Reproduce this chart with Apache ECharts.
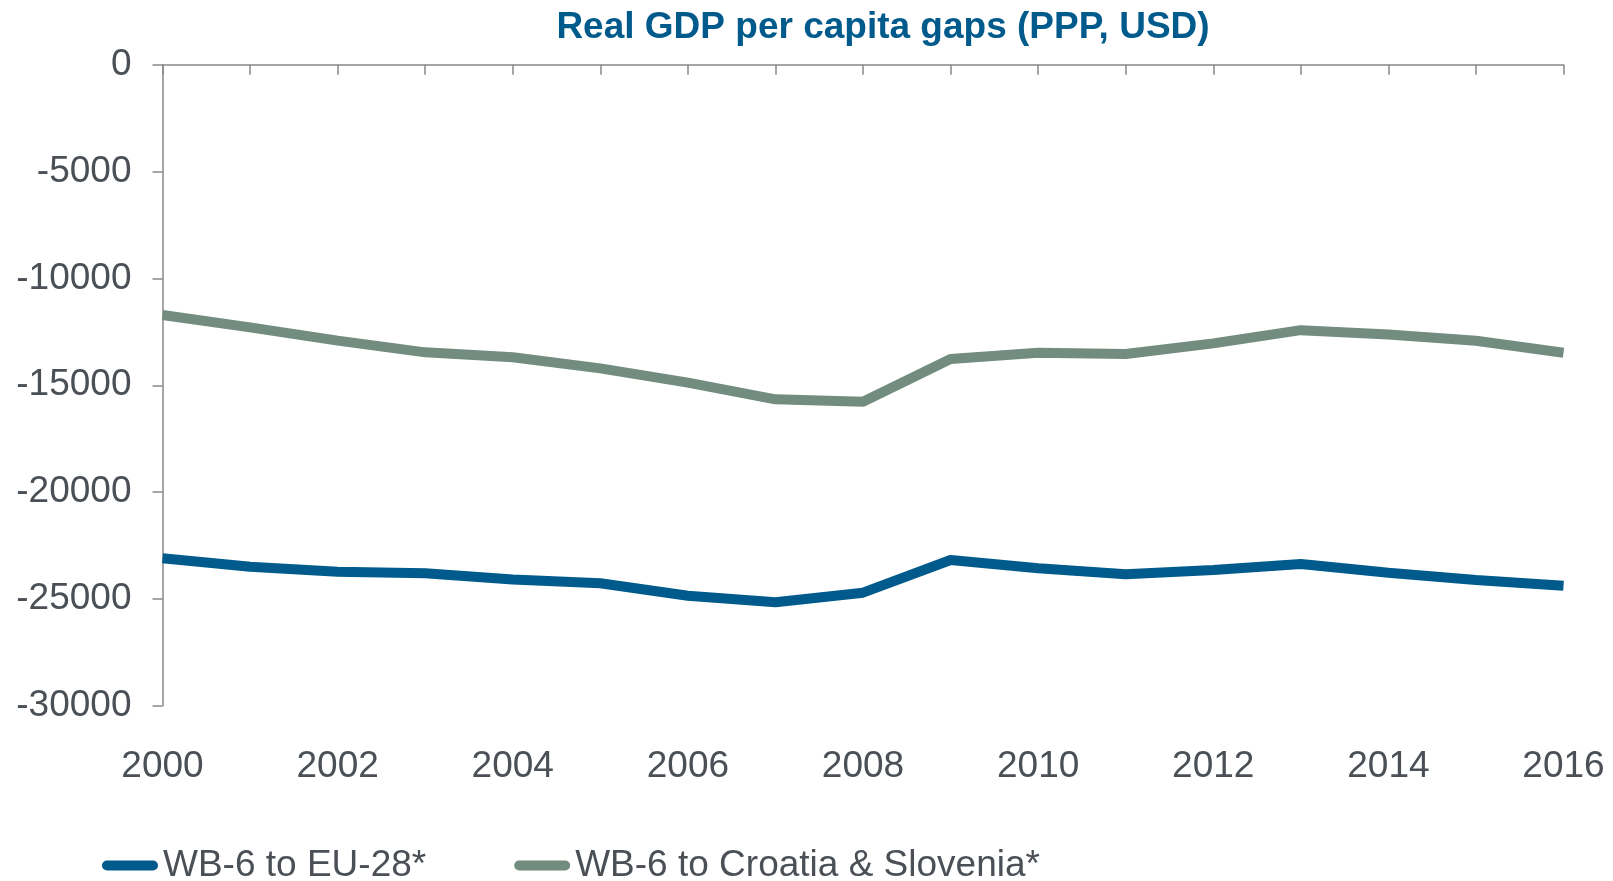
<!DOCTYPE html>
<html>
<head>
<meta charset="utf-8">
<script src="https://cdn.jsdelivr.net/npm/echarts@6/dist/echarts.min.js"></script>
<style>
  html, body { margin: 0; padding: 0; background: #fff; }
  #chart { width: 1613px; height: 881px; }
</style>
</head>
<body>
<div id="chart"></div>
<script>
// years on the x axis
const years = ["2000", "2001", "2002", "2003", "2004", "2005", "2006", "2007", "2008",
  "2009", "2010", "2011", "2012", "2013", "2014", "2015", "2016"];

// gap to EU-28 (USD, PPP)
const gapEU28 = [-23100, -23500, -23730, -23800, -24090, -24270, -24850, -25160, -24710,
  -23180, -23570, -23850, -23650, -23370, -23780, -24120, -24390];

// gap to Croatia & Slovenia
const gapHrSi = [-11710, -12290, -12910, -13460, -13690, -14210, -14880, -15660, -15770,
  -13770, -13480, -13540, -13040, -12420, -12620, -12920, -13480];

const seriesNames = ["WB-6 to EU-28*", "WB-6 to Croatia & Slovenia*"];

const textColor = "#4b5057";
const axisColor = "#888888";
const font = "'Liberation Sans', Arial, sans-serif";
// thick line with round ends for the legend
const legendIcon = "path://M5,0 L51,0 A5,5 0 0 1 51,10 L5,10 A5,5 0 0 1 5,0 Z";

const chart = echarts.init(document.getElementById("chart"));
chart.setOption({
  animation: false,
  title: {
    text: "Real GDP per capita gaps (PPP, USD)",
    left: 883,
    top: 9,
    padding: 0,
    textAlign: "center",
    textStyle: {
      color: "#005a8c",
      fontFamily: font,
      fontWeight: "bold",
      fontSize: 37
    }
  },
  legend: {
    data: seriesNames.map(n => ({ name: n, icon: legendIcon })),
    left: 97,
    top: 842,
    itemWidth: 56,
    itemHeight: 10,
    itemGap: 88,
    textStyle: { color: textColor, fontFamily: font, fontSize: 37 }
  },
  grid: {
    left: 162.5,
    right: 49.5,
    top: 64.8,
    bottom: 175.3
  },
  xAxis: [
    {
      // line and year ticks along the zero line at the top
      type: "category",
      data: years,
      boundaryGap: false,
      position: "top",
      axisLine: { show: true, lineStyle: { color: axisColor, width: 1.5 } },
      axisTick: { show: true, inside: true, length: 10, interval: 0, lineStyle: { color: axisColor, width: 1.5 } },
      axisLabel: { show: false },
      splitLine: { show: false }
    },
    {
      // labels sit at the bottom of the plot
      type: "category",
      data: years,
      boundaryGap: false,
      position: "bottom",
      axisLine: { show: false },
      axisTick: { show: false },
      axisLabel: {
        interval: 1,
        margin: 43,
        color: textColor,
        fontFamily: font,
        fontSize: 37
      },
      splitLine: { show: false }
    }
  ],
  yAxis: {
    type: "value",
    min: -30000,
    max: 0,
    interval: 5000,
    axisLine: { show: true, lineStyle: { color: axisColor, width: 1.5 } },
    axisTick: { show: true, length: 10, lineStyle: { color: axisColor, width: 1.5 } },
    axisLabel: {
      margin: 31,
      color: textColor,
      fontFamily: font,
      fontSize: 37,
      formatter: v => String(v)
    },
    splitLine: { show: false }
  },
  series: [
    {
      name: seriesNames[0],
      type: "line",
      xAxisIndex: 0,
      data: gapEU28,
      symbol: "none",
      color: "#005a8c",
      lineStyle: { width: 10, color: "#005a8c" }
    },
    {
      name: seriesNames[1],
      type: "line",
      xAxisIndex: 0,
      data: gapHrSi,
      symbol: "none",
      color: "#728c7f",
      lineStyle: { width: 10, color: "#728c7f" }
    }
  ]
});
</script>
</body>
</html>
